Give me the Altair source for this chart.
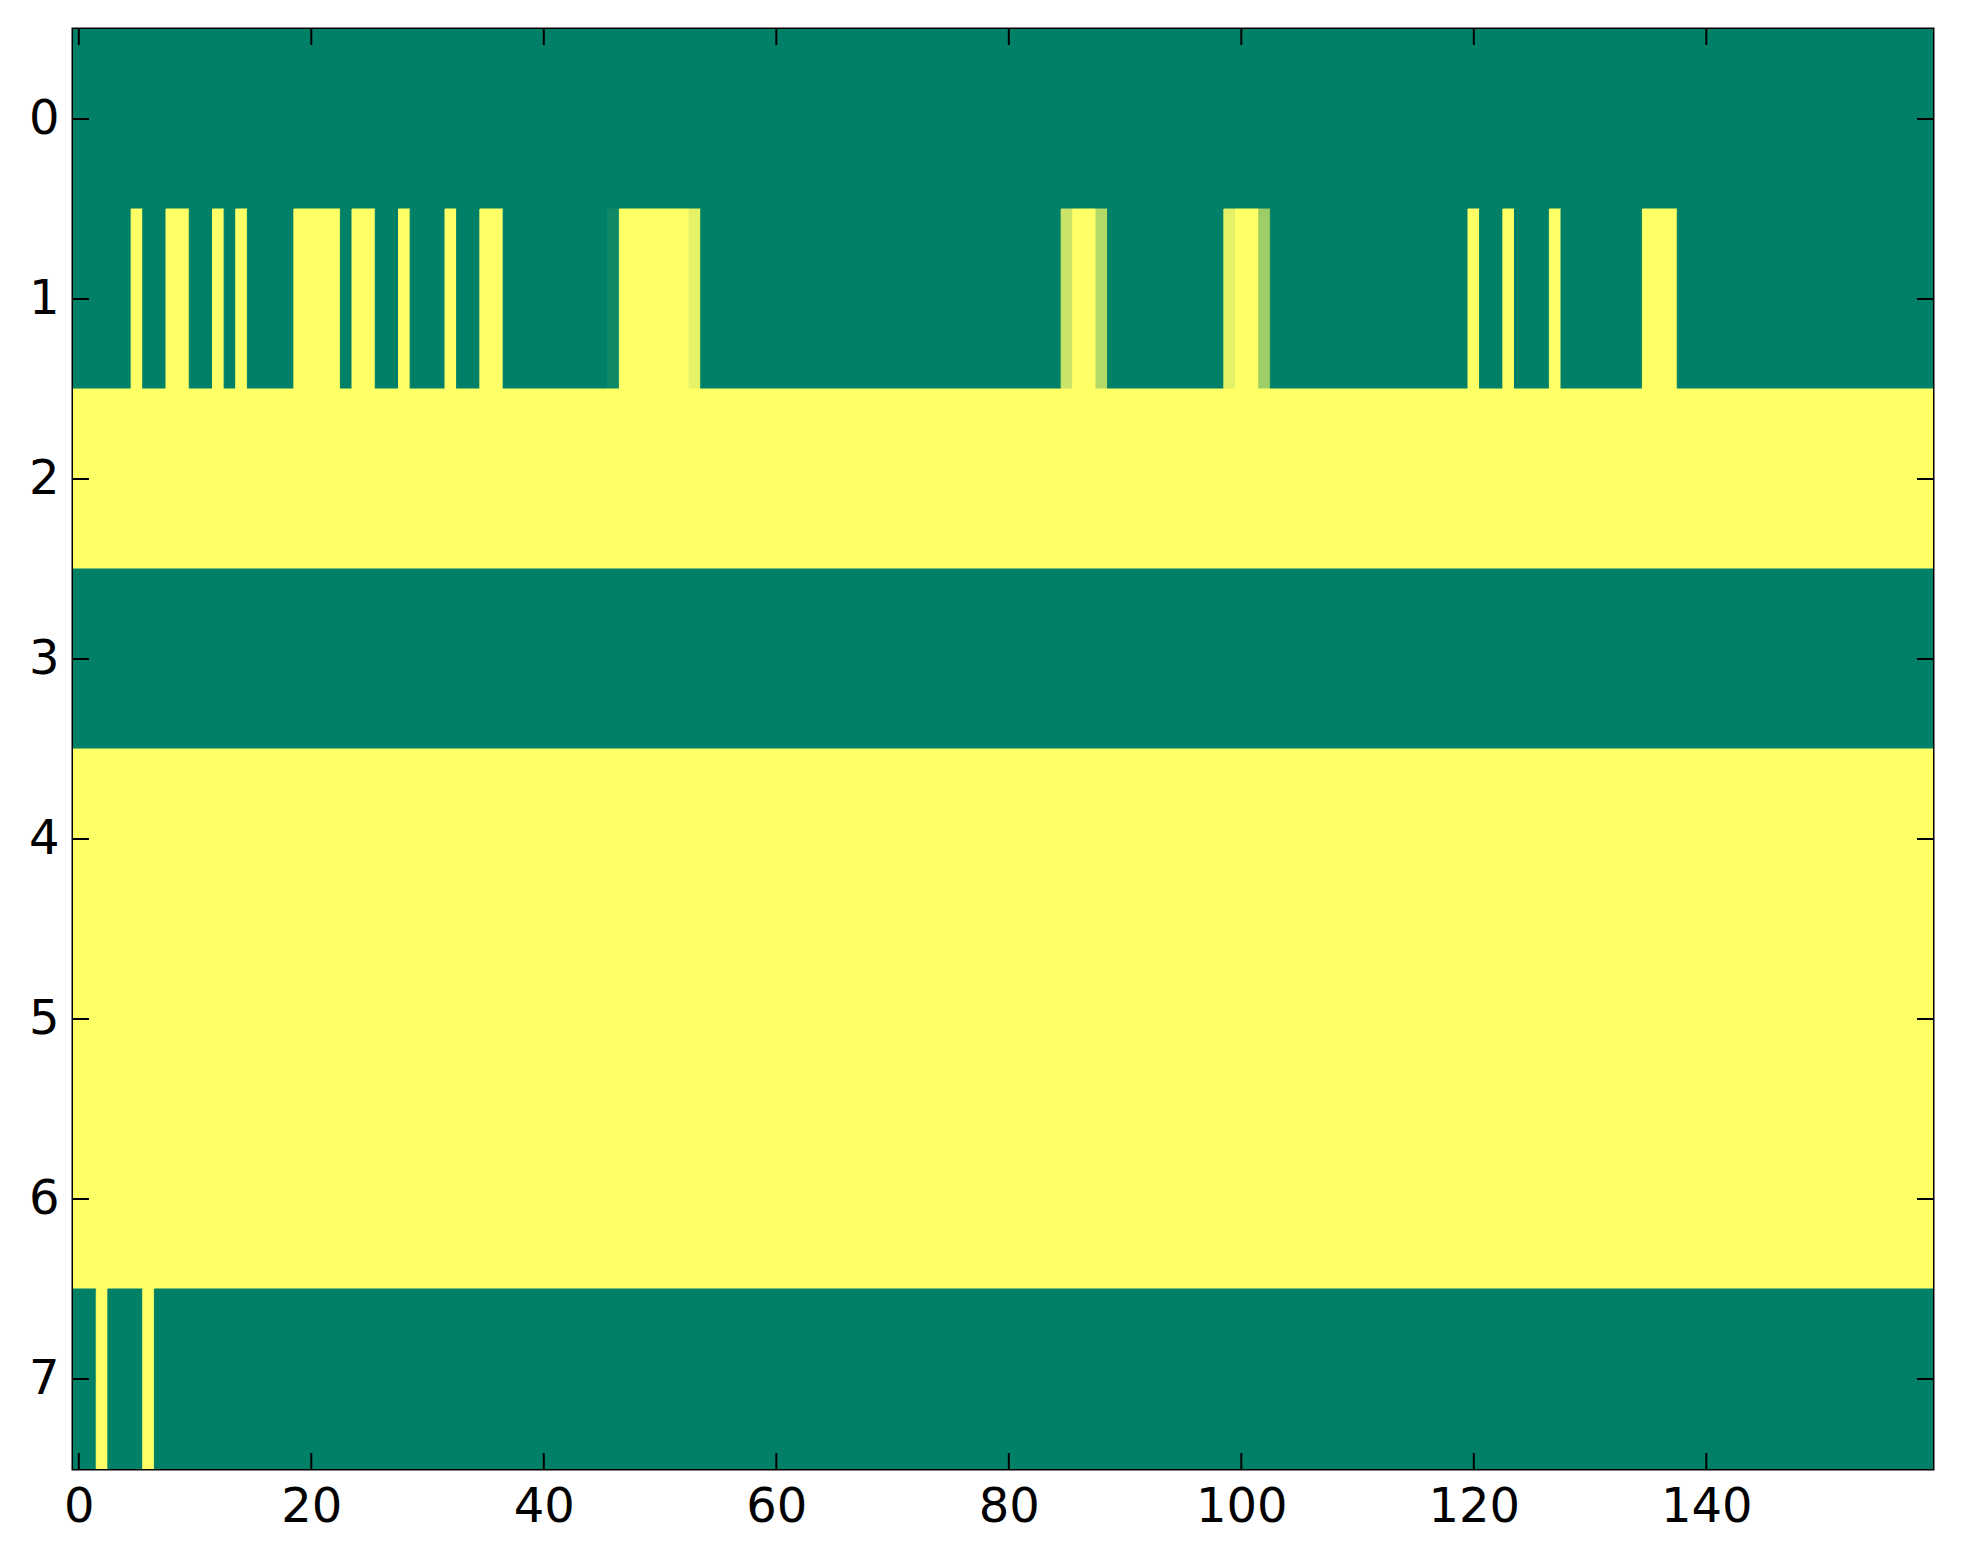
import altair as alt
import pandas as pd

N_COLS = 160
N_ROWS = 8

# base value of every row (0 = green, 1 = yellow)
row_base = [0, 0, 1, 0, 1, 1, 1, 0]

# row 1 exceptions: column -> value
row1_cols = [5, 8, 9, 12, 14, 19, 20, 21, 22, 24, 25, 28, 32, 35, 36,
             46, 47, 48, 49, 50, 51, 52, 53,
             85, 86, 87, 88, 99, 100, 101, 102,
             120, 123, 127, 135, 136, 137]
row1_vals = [1, 1, 1, 1, 1, 1, 1, 1, 1, 1, 1, 1, 1, 1, 1,
             0.06, 1, 1, 1, 1, 1, 1, 0.9,
             0.79, 1, 1, 0.7, 0.89, 1, 1, 0.61,
             1, 1, 1, 1, 1, 1]

# row 7 exceptions
row7_cols = [2, 6]
row7_vals = [1, 1]

x_ticks = [0, 20, 40, 60, 80, 100, 120, 140]
y_ticks = [0, 1, 2, 3, 4, 5, 6, 7]

overrides = {1: dict(zip(row1_cols, row1_vals)), 7: dict(zip(row7_cols, row7_vals))}

recs = []
for r in range(N_ROWS):
    vals = [row_base[r]] * N_COLS
    for c, v in overrides.get(r, {}).items():
        vals[c] = v
    start = 0
    for c in range(1, N_COLS + 1):
        if c == N_COLS or vals[c] != vals[start]:
            recs.append(dict(x=start - 0.5, x2=c - 0.5, y=r - 0.5, y2=r + 0.5, v=vals[start]))
            start = c
df = pd.DataFrame(recs)

W, H = 1860, 1440
TL = 16

xs = alt.Scale(domain=[-0.5, N_COLS - 0.5], nice=False, zero=False)
ys = alt.Scale(domain=[-0.5, N_ROWS - 0.5], reverse=True, nice=False, zero=False)
cs = alt.Scale(domain=[0, 1], range=["#008066", "#ffff66"], interpolate="rgb")

xaxis = alt.Axis(values=x_ticks, title=None, grid=False, ticks=False, domain=False,
                 labelFont="DejaVu Sans", labelFontSize=48, labelColor="black",
                 labelPadding=14, labelFlush=False)
yaxis = alt.Axis(values=y_ticks, title=None, grid=False, ticks=False, domain=False,
                 labelFont="DejaVu Sans", labelFontSize=48, labelColor="black",
                 labelPadding=14)

rects = alt.Chart(df).mark_rect(strokeWidth=1, clip=True).encode(
    x=alt.X("x:Q", scale=xs, axis=xaxis),
    x2="x2:Q",
    y=alt.Y("y:Q", scale=ys, axis=yaxis),
    y2="y2:Q",
    color=alt.Color("v:Q", scale=cs, legend=None),
    stroke=alt.Stroke("v:Q", scale=cs, legend=None),
)

xt = pd.DataFrame({"t": x_ticks})
yt = pd.DataFrame({"t": y_ticks})

xb = alt.Chart(xt).mark_rule(color="black", strokeWidth=2).encode(
    x=alt.X("t:Q", scale=xs, axis=xaxis), y=alt.value(H), y2=alt.value(H - TL))
xtop = alt.Chart(xt).mark_rule(color="black", strokeWidth=2).encode(
    x=alt.X("t:Q", scale=xs, axis=xaxis), y=alt.value(0), y2=alt.value(TL))
yl = alt.Chart(yt).mark_rule(color="black", strokeWidth=2).encode(
    y=alt.Y("t:Q", scale=ys, axis=yaxis), x=alt.value(0), x2=alt.value(TL))
yr = alt.Chart(yt).mark_rule(color="black", strokeWidth=2).encode(
    y=alt.Y("t:Q", scale=ys, axis=yaxis), x=alt.value(W), x2=alt.value(W - TL))

chart = alt.layer(rects, xb, xtop, yl, yr).properties(
    width=W, height=H,
    padding={"left": 65, "top": 21, "right": 20, "bottom": 70},
    autosize="none",
    background="white",
).configure_view(stroke="black", strokeWidth=3)

chart.save("out.html", embed_options={"renderer": "svg", "actions": False})
